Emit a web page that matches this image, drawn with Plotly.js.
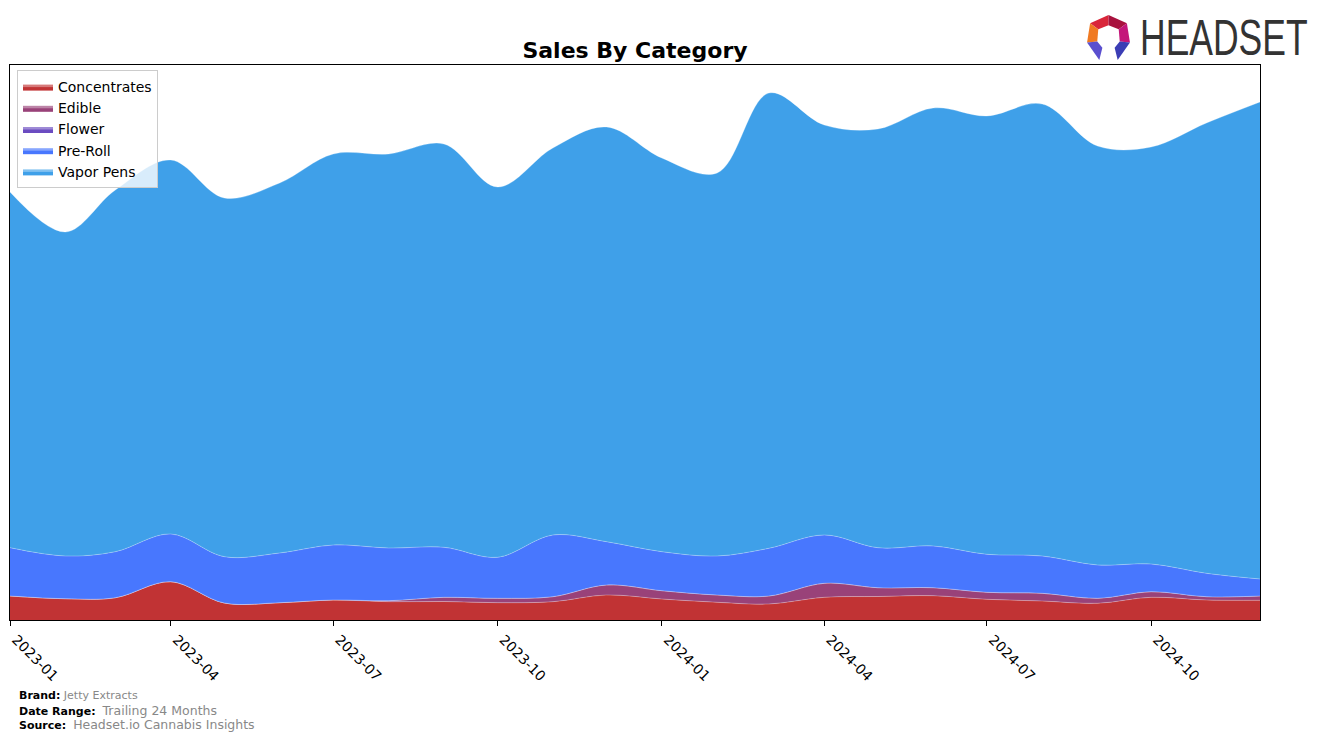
<!DOCTYPE html>
<html>
<head>
<meta charset="utf-8">
<script src="https://cdn.plot.ly/plotly-3.0.1.min.js"></script>
<style>
html,body{margin:0;padding:0;background:#fff;}
#chart{width:1324px;height:741px;}
</style>
</head>
<body>
<div id="chart"></div>
<script>
// Monthly sales by category (estimated units, stacked)
const months = ["2023-01-01","2023-02-01","2023-03-01","2023-04-01","2023-05-01","2023-06-01",
  "2023-07-01","2023-08-01","2023-09-01","2023-10-01","2023-11-01","2023-12-01",
  "2024-01-01","2024-02-01","2024-03-01","2024-04-01","2024-05-01","2024-06-01",
  "2024-07-01","2024-08-01","2024-09-01","2024-10-01","2024-11-01","2024-12-01"];
const concentrates = [24,21.3,22.3,38.3,17,17.3,20,18.3,18.5,17.3,18.3,25,21,17.7,16,22.7,23.5,24.3,20.7,19,16.7,22.7,20,19.7];
const edible = [0,0,0,0,0,0,0,1,4.2,4.4,5,10,8.3,7.3,8,14,8.8,8,7,7.7,5,5.6,3.3,4.3];
const flower = [0,0,0,0,0,0,0,0,0,0,0,0,0,0,0,0,0,0,0,0,0,0,0,0];
const preRoll = [48.3,42.7,46,47.7,46.3,49.7,55,52.7,50,41,61.7,43.3,39,39,47.7,48.3,40,41.7,38,37.3,33.3,27.7,23.4,17];
const vaporPens = [355.7,324,361.7,374,358.7,370,391,394,403.3,370.3,387,414.7,393.7,383,455.3,410,418.7,438,438.3,452,419,417,450.3,477];
const tickLabels = ["2023-01","2023-04","2023-07","2023-10","2024-01","2024-04","2024-07","2024-10"];
const tickVals = ["2023-01-01","2023-04-01","2023-07-01","2023-10-01","2024-01-01","2024-04-01","2024-07-01","2024-10-01"];

const series = [
  {name:"Concentrates", y:concentrates, color:"#C13334"},
  {name:"Edible", y:edible, color:"#994279"},
  {name:"Flower", y:flower, color:"#6B4CC1"},
  {name:"Pre-Roll", y:preRoll, color:"#4877FE"},
  {name:"Vapor Pens", y:vaporPens, color:"#3FA0E9"}
];

const traces = series.map(s => ({
  type:"scatter", mode:"lines", name:s.name, x:months, y:s.y,
  stackgroup:"one", fill:"tonexty", fillcolor:s.color,
  line:{shape:"spline", smoothing:1, width:0.8, color:"rgba(255,255,255,0.35)"},
  hoverinfo:"x+y+name"
}));

const L = 10, R = 1260, T = 65, B = 620;
const W = 1324, H = 741;
const px = x => (x - L) / (R - L);
const py = y => (B - y) / (B - T);

const iconSvg = '<svg xmlns="http://www.w3.org/2000/svg" viewBox="0 0 46 46" width="46" height="46">' +
  '<polygon points="5,9 23,1 23,11 13,15" fill="#D9263A"/>' +
  '<polygon points="23,1 41,9 33,15 23,11" fill="#A8123E"/>' +
  '<polygon points="41,9 44,28 34,27 33,15" fill="#C4177A"/>' +
  '<polygon points="5,9 13,15 12,27 2,28" fill="#F07A22"/>' +
  '<polygon points="2,28 12,27 17,33 14,45" fill="#5A4FCF"/>' +
  '<polygon points="44,28 34,27 29,33 32,45" fill="#3B3DB5"/>' +
  '</svg>';
const iconUri = "data:image/svg+xml;base64," + btoa(iconSvg);

const layout = {
  width:W, height:H,
  margin:{l:L, r:W-R, t:T, b:H-B, pad:0},
  paper_bgcolor:"#fff", plot_bgcolor:"#fff",
  font:{family:"DejaVu Sans, sans-serif", color:"#000"},
  title:{text:"<b>Sales By Category</b>", font:{size:22, family:"DejaVu Sans"}, x:px(635), xanchor:"center", xref:"paper", y:1-(50/H), yanchor:"middle"},
  showlegend:true,
  legend:{x:px(17), y:py(70), xanchor:"left", yanchor:"top", traceorder:"normal",
    bgcolor:"rgba(255,255,255,0.8)", bordercolor:"#cccccc", borderwidth:1,
    font:{size:14, family:"DejaVu Sans"}, itemsizing:"constant"},
  xaxis:{type:"date", range:["2023-01-01","2024-12-01"], tickvals:tickVals, ticktext:tickLabels,
    tickangle:45, ticks:"outside", ticklen:5, tickcolor:"#000", tickfont:{size:14, family:"DejaVu Sans"},
    ticklabelshift:6,
    showgrid:false, zeroline:false, showline:true, linecolor:"#000", linewidth:1, mirror:true},
  yaxis:{range:[0,555], showticklabels:false, ticks:"", showgrid:false, zeroline:false,
    showline:true, linecolor:"#000", linewidth:1, mirror:true},
  images:[{source:iconUri, xref:"paper", yref:"paper", x:px(1085), y:py(14), sizex:(47)/(R-L), sizey:47/(B-T),
    xanchor:"left", yanchor:"top", sizing:"stretch", layer:"above"}],
  annotations:[
    {text:"HEADSET", xref:"paper", yref:"paper", x:px(1224), y:py(38), xanchor:"center", yanchor:"middle",
     showarrow:false, font:{family:"Liberation Sans, sans-serif", size:35.5, color:"#333333"}},
    {text:"<b>Brand:</b> <span style='color:#888888'>Jetty Extracts</span>", xref:"paper", yref:"paper",
     x:px(17), y:py(695), xanchor:"left", yanchor:"middle", showarrow:false, font:{size:11, family:"DejaVu Sans", color:"#000"}},
    {text:"<b>Date Range:</b>  <span style='color:#888888;font-size:12.5px'>Trailing 24 Months</span>", xref:"paper", yref:"paper",
     x:px(17), y:py(710), xanchor:"left", yanchor:"middle", showarrow:false, font:{size:11, family:"DejaVu Sans", color:"#000"}},
    {text:"<b>Source:</b>  <span style='color:#888888;font-size:12.5px'>Headset.io Cannabis Insights</span>", xref:"paper", yref:"paper",
     x:px(17), y:py(724), xanchor:"left", yanchor:"middle", showarrow:false, font:{size:11, family:"DejaVu Sans", color:"#000"}}
  ]
};

Plotly.newPlot("chart", traces, layout, {displayModeBar:false, staticPlot:true}).then(gd => {
  gd.querySelectorAll(".annotation-text").forEach(t => {
    if (t.textContent === "HEADSET") {
      const bb = t.getBBox();
      const cy = bb.y + bb.height / 2;
      const prev = t.getAttribute("transform") || "";
      t.setAttribute("transform", prev + " translate(0," + cy + ") scale(1,1.4) translate(0," + (-cy) + ")");
    }
  });
});
</script>
</body>
</html>
